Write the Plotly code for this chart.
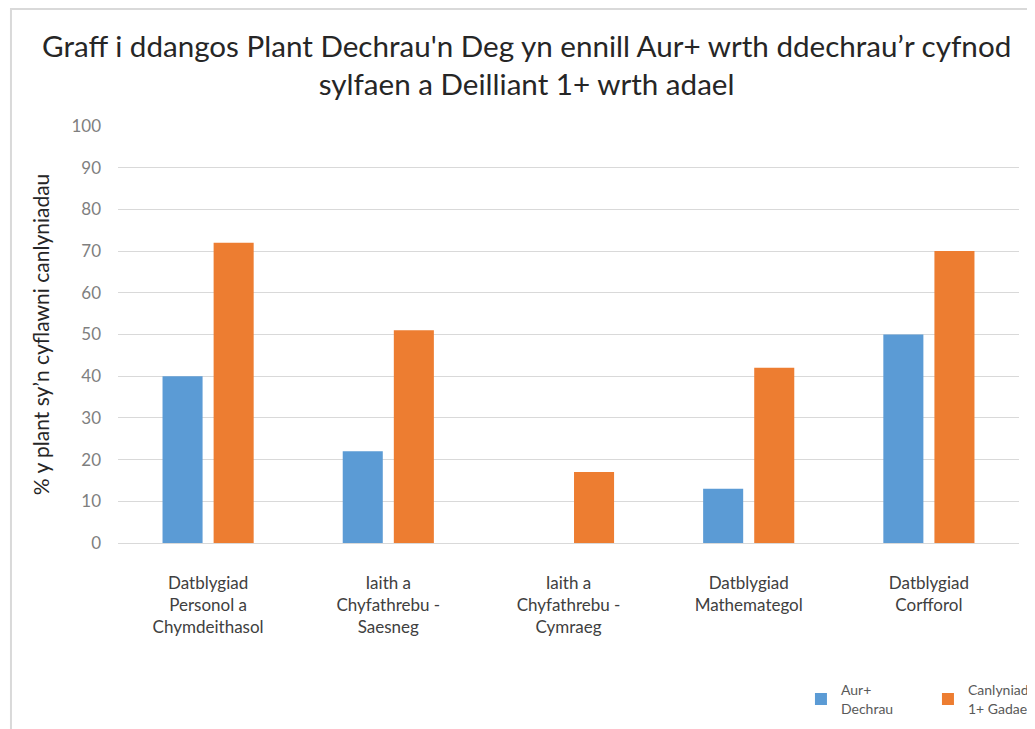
import plotly.graph_objects as go

categories = [
    "Datblygiad<br>Personol a<br>Chymdeithasol",
    "Iaith a<br>Chyfathrebu -<br>Saesneg",
    "Iaith a<br>Chyfathrebu -<br>Cymraeg",
    "Datblygiad<br>Mathemategol",
    "Datblygiad<br>Corfforol",
]
aur_dechrau = [40, 22, 0, 13, 50]
canlyniad_gadael = [72, 51, 17, 42, 70]
series_names = ["Aur+<br>Dechrau", "Canlyniad<br>1+ Gadael"]
colors = ["#5B9BD5", "#ED7D31"]

FONT = "Lato"

fig = go.Figure()
fig.add_trace(go.Bar(x=categories, y=aur_dechrau, name=series_names[0],
                     marker=dict(color=colors[0], line=dict(width=0))))
fig.add_trace(go.Bar(x=categories, y=canlyniad_gadael, name=series_names[1],
                     marker=dict(color=colors[1], line=dict(width=0))))

fig.update_layout(
    width=1027, height=721,
    margin=dict(l=110, r=16, t=118, b=186, autoexpand=False),
    paper_bgcolor="white", plot_bgcolor="white",
    barmode="group", bargap=0.433, bargroupgap=0.216,
    title=dict(
        text="Graff i ddangos Plant Dechrau'n Deg yn ennill Aur+ wrth ddechrau’r cyfnod<br>sylfaen a Deilliant 1+ wrth adael",
        x=0.505, xanchor="center", y=0.9325, yanchor="top",
        font=dict(family=FONT, size=29.6, color="#262626"),
    ),
    font=dict(family=FONT),
    showlegend=True,
    legend=dict(
        orientation="h", x=0.758, xanchor="left", y=-0.315, yanchor="top",
        font=dict(family=FONT, size=14, color="#595959"),
        entrywidth=82, bgcolor="rgba(0,0,0,0)",
    ),
    shapes=[dict(type="rect", xref="paper", yref="paper",
                 x0=-0.1188, x1=1.2, y0=-0.6, y1=1.2806,
                 line=dict(color="#D9D9D9", width=2), layer="below")],
)
fig.update_xaxes(
    showgrid=False, showline=False, zeroline=False,
    tickfont=dict(family=FONT, size=17, color="#404040"),
    ticklabelstandoff=28,
)
fig.update_yaxes(
    range=[0, 100], dtick=10, showgrid=True, gridcolor="#D9D9D9", gridwidth=1,
    zeroline=True, zerolinecolor="#D9D9D9", zerolinewidth=1,
    tickfont=dict(family=FONT, size=17, color="#7F7F7F"),
    ticklabelstandoff=16,
    title=dict(text="% y plant sy’n cyflawni canlyniadau",
               font=dict(family=FONT, size=21, color="#262626"), standoff=16),
)

fig.write_html("out.html")
